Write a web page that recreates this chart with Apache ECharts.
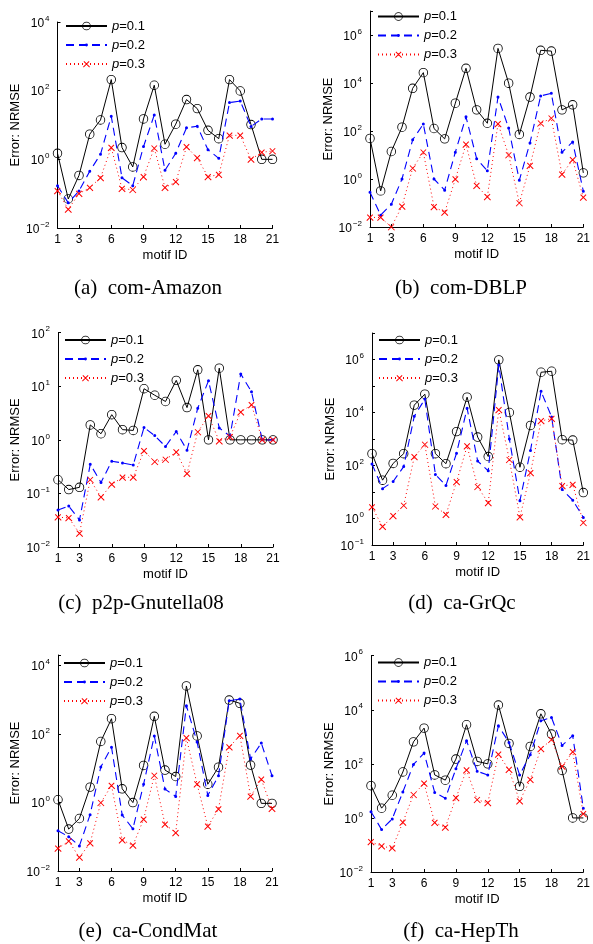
<!DOCTYPE html>
<html><head><meta charset="utf-8">
<script src="https://cdn.jsdelivr.net/npm/echarts@6/dist/echarts.min.js"></script>
<style>html,body{margin:0;padding:0;background:#fff}#c{width:593px;height:944px}</style>
</head><body><div id="c"></div>
<script>
const motifIds = [1,2,3,4,5,6,7,8,9,10,11,12,13,14,15,16,17,18,19,20,21];
const xTickLabels = [1,3,6,9,12,15,18,21];
const seriesNames = ['p=0.1','p=0.2','p=0.3'];
const captions = ['(a)  com-Amazon','(b)  com-DBLP','(c)  p2p-Gnutella08','(d)  ca-GrQc','(e)  ca-CondMat','(f)  ca-HepTh'];
const xAxisName = 'motif ID';
const yAxisName = 'Error: NRMSE';

const amazonP1 = [1.5,0.07,0.34,5.4,14,210,2.2,0.6,15,144,2.75,10.6,55,30,7,4,210,98,10.3,1,1];
const amazonP2 = [0.17,0.054,0.12,0.45,1.4,18,0.29,0.17,2.35,19.5,0.48,1.5,8.3,9.2,1.9,1.07,45,50,9,15,15];
const amazonP3 = [0.12,0.035,0.1,0.15,0.29,2.2,0.14,0.13,0.31,2.1,0.15,0.22,2.3,1.1,0.31,0.36,5,5,1.0,1.6,1.75];

const dblpP1 = [49,0.32,14,145,6000,27000,127,47,1450,41000,760,210,277000,9800,72,2600,230000,214000,760,1230,1.8];
const dblpP2 = [0.28,0.031,0.089,1.0,43,195,1.0,0.34,13,390,7,2.2,2600,132,0.88,32,2900,3700,13,35,0.31];
const dblpP3 = [0.025,0.025,0.01,0.073,2.8,13,0.069,0.041,0.98,27.5,0.53,0.18,200,10,0.1,3.6,210,340,1.56,6.3,0.17];

const gnutellaP1 = [0.18,0.118,0.13,1.9,1.3,2.95,1.55,1.5,9.0,6.8,5.2,12.9,4.0,20.3,1,21.8,1,1,1,1,1];
const gnutellaP2 = [0.049,0.058,0.032,0.35,0.16,0.40,0.37,0.34,1.7,1.2,0.75,1.43,0.64,3.9,12.7,1.67,1.17,17,7.9,1,1];
const gnutellaP3 = [0.036,0.035,0.018,0.18,0.085,0.147,0.2,0.2,0.62,0.39,0.43,0.59,0.235,1.4,2.8,0.95,1.14,3.3,4.5,1,1];

const grqcP1 = [280,28,120,280,19000,49000,280,117,1900,38000,1180,218,970000,10000,86,3250,330000,360000,940,910,9.5];
const grqcP2 = [114,13.4,25,91,7200,32000,46,17.7,290,14500,147,63,620000,1000,4.7,370,63000,6800,12.3,4.9,1.1];
const grqcP3 = [2.7,0.49,1.25,3.1,210,620,2.9,1.4,24,535,15.8,3.9,12600,165,1.12,53,4800,5900,17,19,0.69];

const condmatP1 = [1.2,0.167,0.34,2.8,60,277,2.5,0.99,12,325,8.8,5.7,2500,87,3.4,10.7,970,780,12.3,0.94,0.94];
const condmatP2 = [0.15,0.1,0.054,0.44,10.8,41,0.43,0.17,3.4,87,2.45,1.5,665,58,1.6,6,930,1040,18.5,54,6];
const condmatP3 = [0.046,0.074,0.025,0.065,0.98,3.1,0.08,0.056,0.32,6.1,0.23,0.13,76,3.4,0.2,0.64,41,89,1.5,4.7,0.66];

const hepthP1 = [15.6,2.3,6.9,50,650,2100,39,25,150,2800,123,100,15000,570,14.7,440,7100,1260,57,1.0,1.0];
const hepthP2 = [1.7,0.37,0.92,9.1,95,250,8.8,5.3,66,720,53,39,2550,620,39,215,3900,5200,480,1100,2.3];
const hepthP3 = [0.13,0.09,0.076,0.69,7.2,19,0.67,0.45,5.5,59,4.7,3.6,225,61,4.2,26,360,780,81,275,1.4];

const yExpsA = [-2,0,2,4];
const yExpsB = [-2,0,2,4,6];
const yExpsC = [-2,-1,0,1,2];
const yExpsD = [-1,0,2,4,6];
const yExpsE = [-2,0,2,4];
const yExpsF = [-2,0,2,4,6];

const panels = [
  {d:[amazonP1,amazonP2,amazonP3], min:0.01, max:1e4, interval:2, exps:yExpsA,
   grid:{left:57.5, top:22, width:215, height:206}, lg:{left:65, top:19.5}, cap:[148,288], gap:36},
  {d:[dblpP1,dblpP2,dblpP3], min:0.01, max:1e7, interval:2, exps:yExpsB,
   grid:{left:370, top:11, width:216, height:216}, lg:{left:377, top:10}, cap:[461,288], gap:34.5},
  {d:[gnutellaP1,gnutellaP2,gnutellaP3], min:0.01, max:100, interval:1, exps:yExpsC,
   grid:{left:58, top:332.7, width:215, height:214.3}, lg:{left:64, top:333.5}, cap:[141,603], gap:36},
  {d:[grqcP1,grqcP2,grqcP3], min:0.1, max:1e7, interval:1, exps:yExpsD,
   grid:{left:372, top:333, width:213, height:212}, lg:{left:378, top:333.5}, cap:[462,603], gap:34.5},
  {d:[condmatP1,condmatP2,condmatP3], min:0.01, max:2e4, interval:2, exps:yExpsE,
   grid:{left:58, top:655, width:214, height:216}, lg:{left:63, top:656.5}, cap:[148,931], gap:36},
  {d:[hepthP1,hepthP2,hepthP3], min:0.01, max:1e6, interval:2, exps:yExpsF,
   grid:{left:371, top:655.7, width:215, height:216.3}, lg:{left:377, top:656}, cap:[461,931], gap:34.5}
];

const SANS = 'Liberation Sans, Arial, Helvetica, sans-serif';
const SERIF = 'Liberation Serif, Times New Roman, serif';
const corners = ' M0,0L0.01,0L0,0.01Z M10,10L9.99,10L10,9.99Z';
const ringPath = 'path://M5,0.5A4.5,4.5 0 1,1 5,9.5A4.5,4.5 0 1,1 5,0.5Z M5,1.3A3.7,3.7 0 1,0 5,8.7A3.7,3.7 0 1,0 5,1.3Z' + corners;
const dotPath = 'path://M5,3.5A1.5,1.5 0 1,1 5,6.5A1.5,1.5 0 1,1 5,3.5Z' + corners;
const crossPath = 'path://M2.6,1.9L8.6,7.9L7.9,8.6L1.9,2.6Z M7.4,1.9L8.1,2.6L2.1,8.6L1.4,7.9Z' + corners;

const styles = [
  {symbol:ringPath, symbolSize:10.5, color:'#000000', line:{color:'#000000', width:1, type:'solid'}},
  {symbol:dotPath, symbolSize:10, color:'#0000ff', line:{color:'#0000ff', width:1.1, type:[8,5]}},
  {symbol:crossPath, symbolSize:10, color:'#ff0000', line:{color:'#ff0000', width:1, type:[1,3]}}
];

const grids = [], xAxes = [], yAxes = [], series = [], legends = [], graphics = [];
panels.forEach((p, i) => {
  grids.push(Object.assign({containLabel:false}, p.grid));
  xAxes.push({
    type:'value', gridIndex:i, min:1, max:21,
    name:xAxisName, nameLocation:'middle', nameGap:21,
    nameTextStyle:{fontFamily:SANS, fontSize:13, color:'#000'},
    axisLine:{show:true, onZero:false, lineStyle:{color:'#000', width:1}},
    axisTick:{show:true, inside:true, length:3, customValues:xTickLabels, lineStyle:{color:'#000'}},
    axisLabel:{show:true, margin:6, customValues:xTickLabels, fontFamily:SANS, fontSize:12, color:'#000'},
    splitLine:{show:false}
  });
  const exps = p.exps;
  yAxes.push({
    type:'log', logBase:10, gridIndex:i, min:p.min, max:p.max, interval:p.interval,
    name:yAxisName, nameLocation:'middle', nameGap:p.gap, nameRotate:90,
    nameTextStyle:{fontFamily:SANS, fontSize:13, color:'#000'},
    axisLine:{show:true, onZero:false, lineStyle:{color:'#000', width:1}},
    axisTick:{show:true, inside:true, length:3, lineStyle:{color:'#000'}},
    axisLabel:{
      show:true, margin:8, fontFamily:SANS, color:'#000',
      formatter:function(v){
        const e = Math.log10(v);
        const r = Math.round(e);
        if (Math.abs(e - r) > 1e-6 || exps.indexOf(r) < 0) return '';
        const s = r < 0 ? '\u2212' + (-r) : String(r);
        return '{b|10}{s|' + s + '}';
      },
      rich:{
        b:{fontFamily:SANS, fontSize:12, color:'#000', padding:[3,0,0,0], verticalAlign:'bottom'},
        s:{fontFamily:SANS, fontSize:8, color:'#000', verticalAlign:'top', padding:[0,0,0,1]}
      }
    },
    splitLine:{show:false}
  });
  p.d.forEach((arr, k) => {
    const st = styles[k];
    series.push({
      name:seriesNames[k], type:'line', xAxisIndex:i, yAxisIndex:i,
      data:motifIds.map((m, j) => [m, arr[j]]),
      symbol:st.symbol, symbolSize:st.symbolSize, showSymbol:true, clip:false,
      itemStyle:{color:st.color, borderWidth:0},
      lineStyle:st.line, z:2 + k, animation:false, silent:true
    });
  });
  legends.push({
    show:true, orient:'vertical', left:p.lg.left, top:p.lg.top,
    itemWidth:41, itemHeight:12, itemGap:6, padding:0,
    selectedMode:false, inactiveColor:'#000',
    data:seriesNames.map(n => ({name:n})),
    formatter:function(n){ return '{i|p}{t|' + n.slice(1) + '}'; },
    textStyle:{fontFamily:SANS, fontSize:13, color:'#000',
      rich:{i:{fontFamily:SANS, fontSize:13, fontStyle:'italic', color:'#000'},
            t:{fontFamily:SANS, fontSize:13, color:'#000'}}}
  });
  graphics.push({
    type:'text', x:p.cap[0], y:p.cap[1],
    style:{text:captions[i], font:'21px ' + SERIF, fill:'#000', textAlign:'center', textVerticalAlign:'middle'}
  });
});

const chart = echarts.init(document.getElementById('c'), null, {renderer:'canvas'});
chart.setOption({
  animation:false, backgroundColor:'#fff',
  grid:grids, xAxis:xAxes, yAxis:yAxes, series:series, legend:legends, graphic:graphics
});
</script></body></html>
